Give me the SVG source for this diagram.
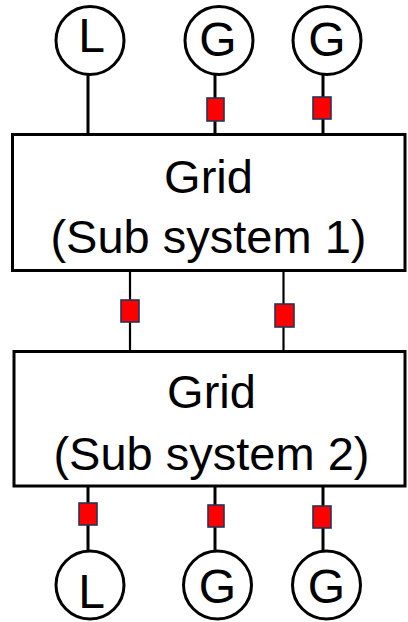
<svg xmlns="http://www.w3.org/2000/svg" width="408" height="622" viewBox="0 0 408 622">
<style>
.node{fill:#fff;stroke:#000;stroke-width:3}
.lbl{font-family:"Liberation Sans",Arial,sans-serif;fill:#000;text-anchor:middle}
.big{font-size:47px}
.sym{font-size:48px}
.w{stroke:#000;stroke-width:3;fill:none}
.w2{stroke:#000;stroke-width:2.2;fill:none}
.br{fill:#ff0000;stroke:#243559;stroke-width:1.6}
</style>
<rect width="408" height="622" fill="#fff"/>
<g id="connectors">
<line class="w" x1="88" y1="74" x2="88" y2="135"/>
<line class="w" x1="215" y1="74" x2="215" y2="135"/>
<line class="w" x1="323" y1="74" x2="323" y2="135"/>
<line class="w2" x1="130" y1="271" x2="130" y2="352"/>
<line class="w2" x1="283.5" y1="267" x2="283.5" y2="352"/>
<line class="w" x1="88" y1="486" x2="88" y2="552"/>
<line class="w" x1="215" y1="486" x2="215" y2="552"/>
<line class="w" x1="323" y1="485" x2="323" y2="552"/>
<rect class="br" x="207" y="98" width="17" height="23"/>
<rect class="br" x="313" y="97" width="18" height="22"/>
<rect class="br" x="121" y="300" width="18" height="22"/>
<rect class="br" x="275" y="304" width="19" height="23"/>
<rect class="br" x="79" y="503" width="18" height="22"/>
<rect class="br" x="208" y="505" width="16" height="22"/>
<rect class="br" x="313" y="506" width="18" height="22"/>
</g>
<g id="load-top">
<circle class="node" cx="90" cy="40.5" r="34"/>
<text class="lbl sym" x="91.5" y="52">L</text>
</g>
<g id="gen-top-1">
<circle class="node" cx="219" cy="40.5" r="34"/>
<text class="lbl sym" x="218" y="56">G</text>
</g>
<g id="gen-top-2">
<circle class="node" cx="327" cy="40.5" r="34"/>
<text class="lbl sym" x="327" y="56">G</text>
</g>
<g id="grid-1">
<rect class="node" x="12.5" y="134.5" width="392.5" height="136"/>
<text class="lbl big" x="208.5" y="193">Grid</text>
<text class="lbl big" x="208.5" y="253">(Sub system 1)</text>
</g>
<g id="grid-2">
<rect class="node" x="14" y="351.5" width="391" height="134.5"/>
<text class="lbl big" x="211.5" y="408">Grid</text>
<text class="lbl big" x="211.5" y="470">(Sub system 2)</text>
</g>
<g id="load-bottom">
<circle class="node" cx="90" cy="585" r="34"/>
<text class="lbl sym" x="91.5" y="608">L</text>
</g>
<g id="gen-bottom-1">
<circle class="node" cx="217.5" cy="585" r="34"/>
<text class="lbl sym" x="217.5" y="603">G</text>
</g>
<g id="gen-bottom-2">
<circle class="node" cx="326.5" cy="585" r="34"/>
<text class="lbl sym" x="326.5" y="603">G</text>
</g>
</svg>
